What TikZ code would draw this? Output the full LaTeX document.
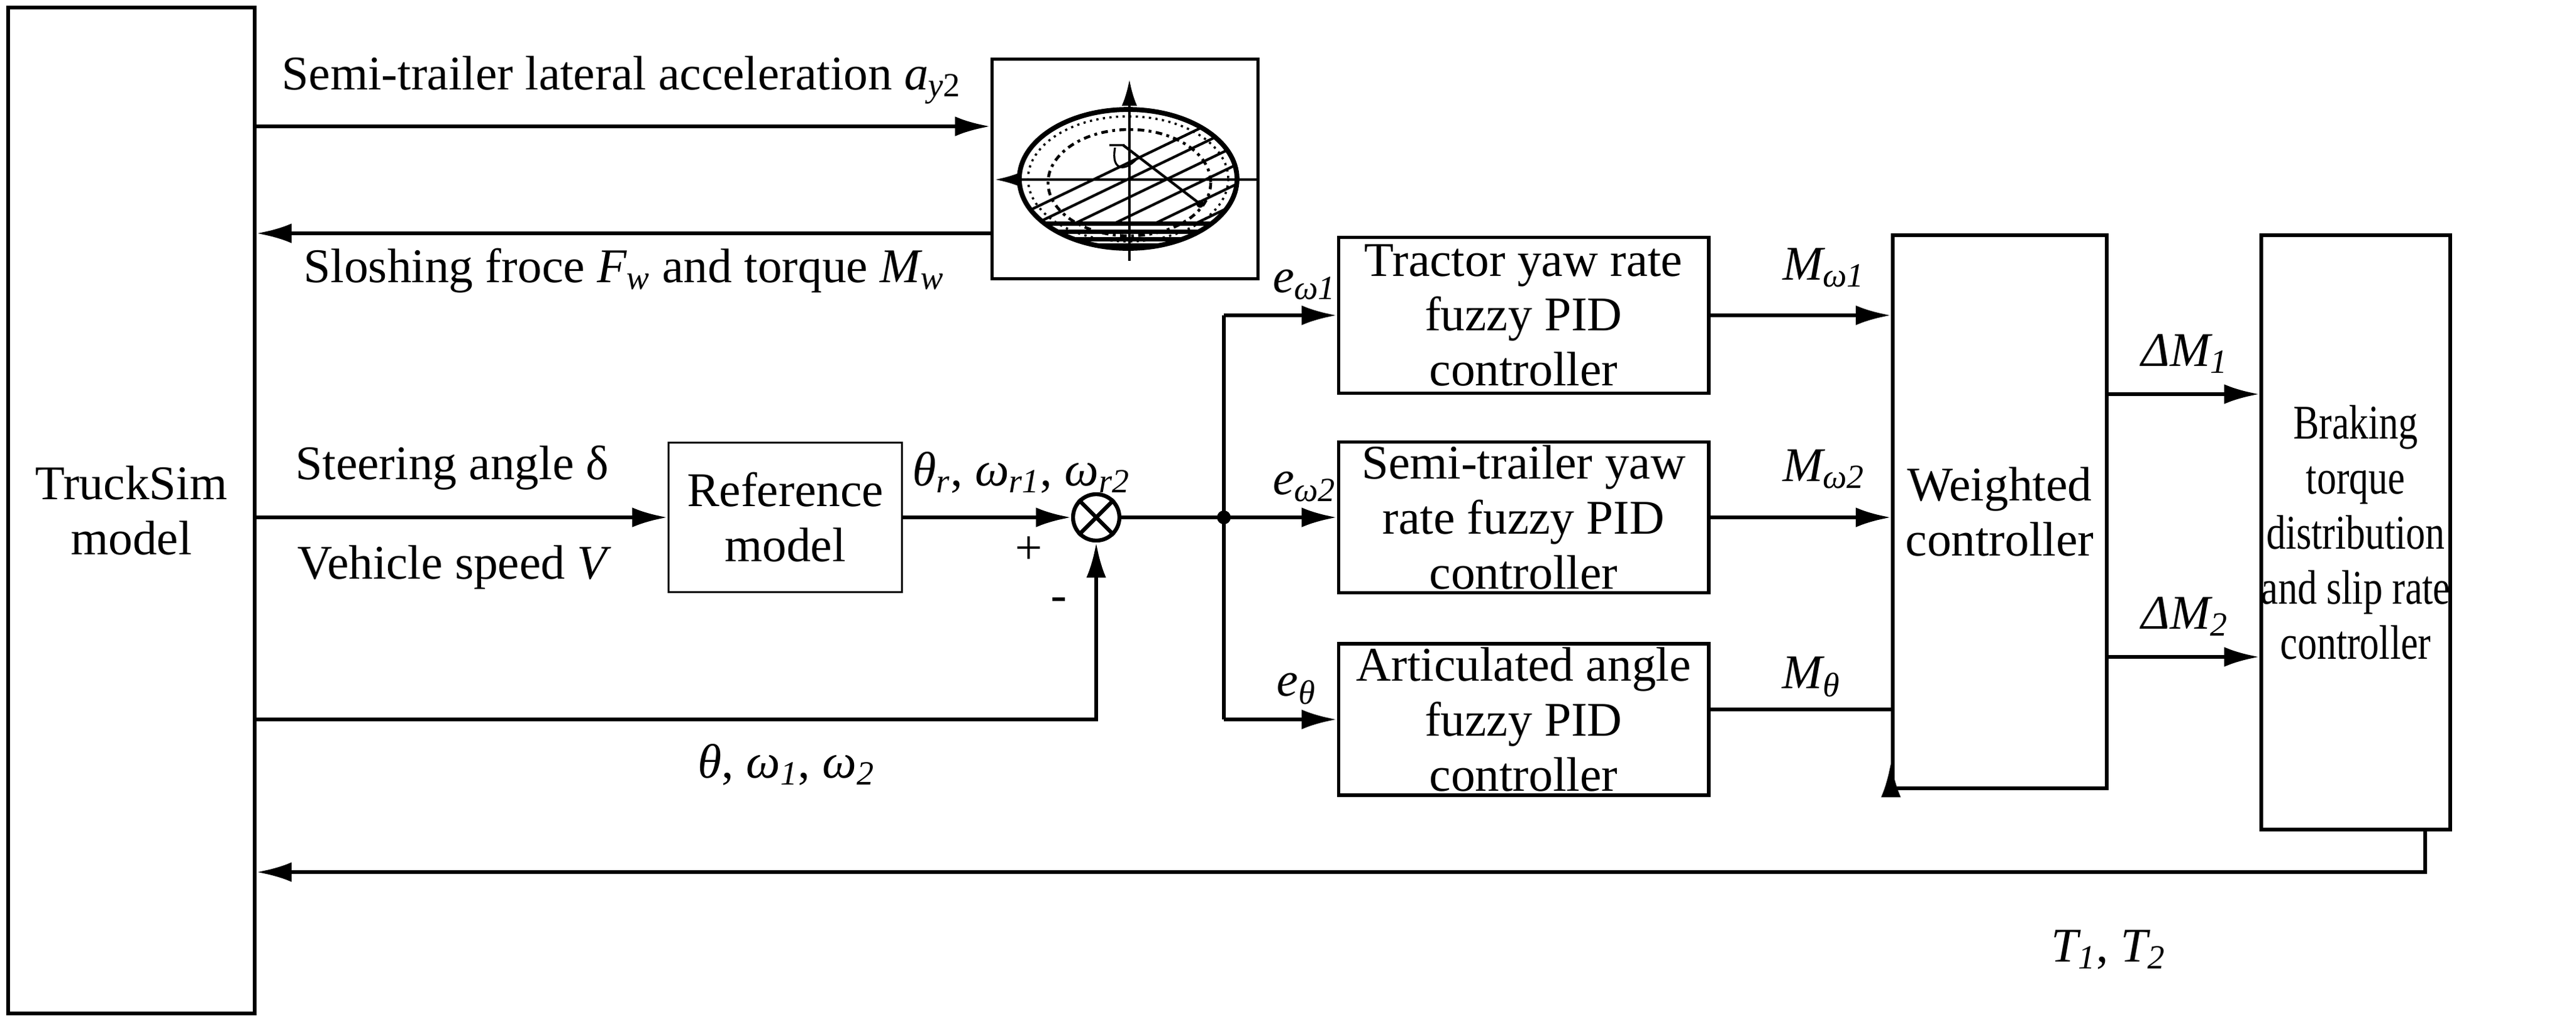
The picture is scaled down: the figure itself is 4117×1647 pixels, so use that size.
\documentclass[tikz,border=0pt]{standalone}
\usepackage{fontspec}
\setmainfont{Liberation Serif}
\newfontfamily\narrowfnt{Liberation Serif}[FakeStretch=0.8]
\usetikzlibrary{arrows.meta}
\begin{document}
\begin{tikzpicture}[x=0.01cm,y=-0.01cm,
  every node/.style={font=\fontsize{22}{25}\selectfont},
  box/.style={draw,line width=1.6pt,align=center,inner sep=0pt},
  ln/.style={line width=1.8pt},
  arr/.style={ln,-{Latex[length=16pt,width=9pt]}},
  lbl/.style={inner sep=0pt}]
\useasboundingbox (0,0) rectangle (4117,1647);
% boxes
\node[box,minimum width=3.94cm,minimum height=16.07cm] (ts) at (210,816) {TruckSim\\model};
\node[box,minimum width=4.25cm,minimum height=3.51cm] (tank) at (1798,270) {};
\node[box,line width=1pt,minimum width=3.73cm,minimum height=2.39cm] (ref) at (1255,827) {Reference\\model};
\node[draw,ln,circle,minimum size=0.74cm,inner sep=0pt] (sum) at (1752,827) {};
\draw[ln] (sum.north west)--(sum.south east) (sum.north east)--(sum.south west);
\node[box,minimum width=5.91cm,minimum height=2.49cm] (c1) at (2435,504) {Tractor yaw rate\\fuzzy PID\\controller};
\node[box,minimum width=5.91cm,minimum height=2.41cm] (c2) at (2435,827) {Semi-trailer yaw\\rate fuzzy PID\\controller};
\node[box,minimum width=5.91cm,minimum height=2.42cm] (c3) at (2435,1150) {Articulated angle\\fuzzy PID\\controller};
\node[box,minimum width=3.42cm,minimum height=8.84cm] (wc) at (3196,818) {Weighted\\controller};
\node[box,minimum width=2.31cm,minimum height=9.50cm,font=\narrowfnt\fontsize{22}{25}\selectfont] (br) at (3765,851) {Braking\\torque\\distribution\\and slip rate\\controller};
% tank drawing
\begin{scope}
\coordinate (tc) at (1803,286);
\begin{scope}
\clip (tc) ellipse [x radius=174, y radius=111];
\foreach \x in {1650,1712,1775,1840,1905,1970,2035}
  \draw[line width=1.2pt] (\x,360) -- ++(540,-260);
\draw[line width=1.2pt] (1650,334) -- ++(540,-260);
\fill[white] (1600,357) rectangle (2010,420);
\foreach \y in {357,370,382,392}
  \draw[line width=2pt] (1600,\y) -- (2010,\y);
\end{scope}
\draw[line width=1pt,dotted] (tc) ellipse [x radius=160, y radius=100];
\draw[line width=1.3pt,dash dot] (1805,292) ellipse [x radius=130, y radius=85];
\draw[line width=2.2pt] (tc) ellipse [x radius=174, y radius=111];
\draw[line width=1.3pt,-{Latex[length=12pt,width=7pt]}] (2012,287) -- (1590,287);
\draw[line width=1.3pt,-{Latex[length=12pt,width=7pt]}] (1805,417) -- (1805,127);
\draw[line width=1.2pt] (1795,232) -- (1918,326);
\fill (1918,326) circle (6);
\draw[line width=0.9pt] (1773,232) -- (1797,232) (1782,236) .. controls (1775,275) and (1800,275) .. (1820,250);
\end{scope}
% connectors
\draw[arr] (ts.east|-0,202) -- (tank.west|-0,202);
\draw[arr] (tank.west|-0,373) -- (ts.east|-0,373);
\draw[arr] (ts.east|-0,827) -- (ref.west);
\draw[arr] (ref.east) -- (sum.west);
\draw[arr] (ts.east|-0,1150) -- (sum.south|-0,1150) -- (sum.south);
\coordinate (j) at (1956,827);
\draw[ln] (sum.east) -- (j);
\fill (j) circle (11);
\draw[ln] (j|-c1.west) -- (j|-c3.west);
\draw[arr] (j|-c1.west) -- (c1.west);
\draw[arr] (j) -- (c2.west);
\draw[arr] (j|-c3.west) -- (c3.west);
\draw[arr] (c1.east) -- (wc.west|-c1.east);
\draw[arr] (c2.east) -- (wc.west|-c2.east);
\draw[ln] (c3.east|-0,1134) -- (wc.west|-0,1134);
\draw[arr] (wc.south west) -- ++(0,-45);
\draw[arr] (wc.east|-0,630) -- (br.west|-0,630);
\draw[arr] (wc.east|-0,1050) -- (br.west|-0,1050);
\draw[arr] (3876,1326) -- (3876,1394) -- (ts.east|-0,1394);
% labels
\node[lbl,anchor=west] (l1) at (450,128) {Semi-trailer lateral acceleration \textit{a}\textsubscript{\textit{y}2}};
\node[lbl,anchor=west] (l2) at (485,433) {Sloshing froce \textit{F\textsubscript{w}} and torque \textit{M\textsubscript{w}}};
\node[lbl,anchor=west] (l3) at (472,748) {Steering angle δ};
\node[lbl,anchor=west] (l4) at (475,907) {Vehicle speed \textit{V}};
\node[lbl,anchor=west] (l5) at (1458,755) {\textit{θ\textsubscript{r}}, \textit{ω\textsubscript{r1}}, \textit{ω\textsubscript{r2}}};
\node[lbl] (l6) at (1644,880) {+};
\node[lbl] (l7) at (1692,966) {-};
\node[lbl,anchor=west] (l8) at (1115,1222) {\textit{θ}, \textit{ω\textsubscript{1}}, \textit{ω\textsubscript{2}}};
\node[lbl] (l9) at (2085,455) {\textit{e\textsubscript{ω1}}};
\node[lbl] (l10) at (2085,778) {\textit{e\textsubscript{ω2}}};
\node[lbl] (l11) at (2072,1101) {\textit{e\textsubscript{θ}}};
\node[lbl] (l12) at (2915,428) {\textit{M\textsubscript{ω1}}};
\node[lbl] (l13) at (2915,750) {\textit{M\textsubscript{ω2}}};
\node[lbl] (l14) at (2895,1082) {\textit{M\textsubscript{θ}}};
\node[lbl] (l15) at (3492,565) {\textit{ΔM\textsubscript{1}}};
\node[lbl] (l16) at (3492,985) {\textit{ΔM\textsubscript{2}}};
\node[lbl] (l17) at (3370,1518) {\textit{T\textsubscript{1}}, \textit{T\textsubscript{2}}};
\end{tikzpicture}
\end{document}
